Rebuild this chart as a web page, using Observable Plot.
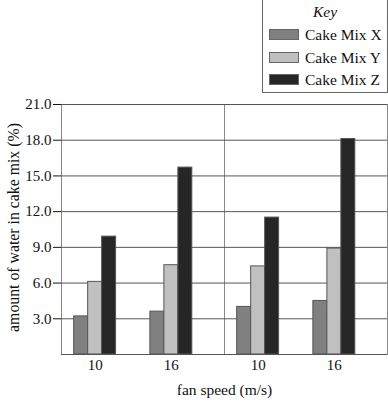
<!DOCTYPE html>
<html>
<head>
<meta charset="utf-8">
<script src="https://cdn.jsdelivr.net/npm/d3@7"></script>
<script src="https://cdn.jsdelivr.net/npm/@observablehq/plot@0.6"></script>
<style>
  body { margin: 0; background: #fff; }
  #wrap { position: relative; width: 388px; height: 403px; font-family: "Liberation Serif", serif; }
  #legend { position: absolute; left: 262px; top: 0px; width: 124px; height: 92px; border: 1px solid #666; border-top: none; background: #fff; font-size: 15.5px; color: #111; }
  #legend .title { position: absolute; left: 0; width: 100%; top: 3px; text-align: center; font-style: italic; }
  #legend .row { position: absolute; left: 6px; height: 16px; line-height: 16px; }
  #legend .sw { position: absolute; left: 0; top: 2px; width: 30px; height: 11px; border: 1px solid #666; box-sizing: border-box; }
  #legend .lab { position: absolute; left: 36px; top: 0; white-space: nowrap; }
</style>
</head>
<body>
<div id="wrap"></div>
<script>
// ---- data ----
const mixes = ["Cake Mix X", "Cake Mix Y", "Cake Mix Z"];
const panels = ["A", "A", "B", "B"];          // two side-by-side panels
const speeds = ["10", "16", "10", "16"];      // fan speed (m/s)
const mixX = [3.2, 3.6, 4.0, 4.5];
const mixY = [6.1, 7.5, 7.4, 8.9];
const mixZ = [9.9, 15.7, 11.5, 18.1];
const yTicks = [3, 6, 9, 12, 15, 18, 21];
const colors = ["#808080", "#c0c0c0", "#262626"];
const xLabel = "fan speed (m/s)";
const yLabel = "amount of water in cake mix (%)";

const series = [mixX, mixY, mixZ];
const rows = mixes.map((m, k) => series[k].map((v, i) => ({mix: m, panel: panels[i], speed: speeds[i], value: v})));

const barOpts = (k) => ({
  fx: "panel", x: "speed", y: "value",
  fill: colors[k], stroke: "#555", strokeWidth: 1,
  dx: (k - 1) * 14
});

const chart = Plot.plot({
  width: 388,
  height: 403,
  marginTop: 104,
  marginBottom: 49,
  marginLeft: 61,
  marginRight: 1,
  style: {fontFamily: "Liberation Serif", fontSize: "15px", color: "#111", background: "#fff"},
  fx: {domain: ["A", "B"], padding: 0, axis: null},
  x: {domain: ["10", "16"], paddingInner: 0.817, paddingOuter: 0.478, align: 0.366, round: false,
      tickSize: 0, tickPadding: 5, label: null},
  y: {domain: [0, 21], ticks: yTicks, tickFormat: d3.format(".1f"), tickSize: 8, tickPadding: 2,
      label: null},
  marks: [
    Plot.frame({stroke: "#888"}),
    Plot.ruleY(yTicks, {stroke: "#555"}),
    Plot.ruleY([0], {stroke: "#555"}),
    Plot.barY(rows[0], barOpts(0)),
    Plot.barY(rows[1], barOpts(1)),
    Plot.barY(rows[2], barOpts(2)),
    Plot.text([{panel: "A"}], {fx: "panel", text: () => xLabel, frameAnchor: "bottom-right",
      textAnchor: "middle", lineAnchor: "middle", dy: 36, fontSize: 15.5}),
    Plot.text([{panel: "A"}], {fx: "panel", text: () => yLabel, frameAnchor: "left", rotate: -90,
      textAnchor: "middle", lineAnchor: "middle", dx: -47.5, dy: -2, fontSize: 15.8})
  ]
});

const wrap = document.getElementById("wrap");
wrap.appendChild(chart);

// legend
const legend = document.createElement("div");
legend.id = "legend";
legend.innerHTML = `<div class="title">Key</div>` + mixes.map((m, k) =>
  `<div class="row" style="top:${27 + k * 22.5}px"><div class="sw" style="background:${colors[k]}"></div><div class="lab">${m}</div></div>`
).join("");
wrap.appendChild(legend);
</script>
</body>
</html>
